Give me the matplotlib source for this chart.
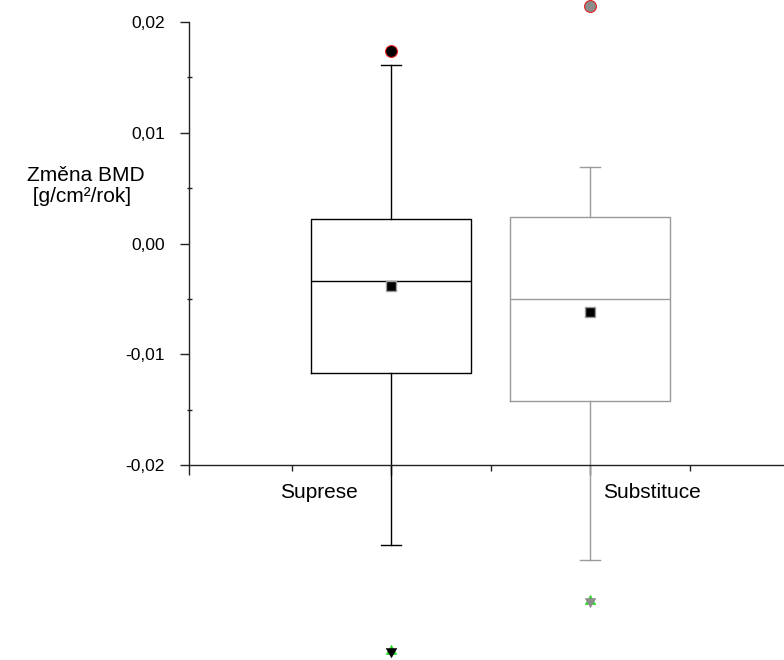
import matplotlib
matplotlib.use("Agg")
import matplotlib.pyplot as plt
from matplotlib.ticker import MultipleLocator, FuncFormatter

plt.rcParams['font.family'] = ['Liberation Sans', 'DejaVu Sans']

# Box statistics per group (g/cm2/year)
categories = ["Suprese", "Substituce"]
positions = [1, 2]
label_x = [0.64, 2.31]
q3 = [0.00217, 0.00235]
median = [-0.00343, -0.00497]
q1 = [-0.01165, -0.01418]
whisker_hi = [0.01608, 0.00687]
whisker_lo = [-0.02719, -0.02855]
means = [-0.0038, -0.00614]
outlier_hi = [0.01734, 0.02141]
outlier_lo = [-0.03677, -0.03225]
colors = ["black", "#9a9a9a"]
outlier_fill = ["black", "#8c8c8c"]

# equilateral triangles centred on their centroid, so the pair forms a star
TRI_UP = [(0, 1), (-0.866, -0.5), (0.866, -0.5), (0, 1)]
TRI_DOWN = [(0, -1), (-0.866, 0.5), (0.866, 0.5), (0, -1)]

fig = plt.figure(figsize=(7.84, 6.6), dpi=100)
ax = fig.add_axes([189 / 784, 1 - 465 / 660, 1 - 189 / 784, 443 / 660])

for i, name in enumerate(categories):
    c = colors[i]
    stats = dict(label=name, med=median[i], q1=q1[i], q3=q3[i],
                 whislo=whisker_lo[i], whishi=whisker_hi[i], fliers=[])
    art = ax.bxp([stats], positions=[positions[i]], widths=0.8,
                 showfliers=False, manage_ticks=False,
                 boxprops=dict(color=c, linewidth=1.0),
                 medianprops=dict(color=c, linewidth=1.0),
                 whiskerprops=dict(color=c, linewidth=1.0),
                 capprops=dict(color=c, linewidth=1.0),
                 capwidths=0.1)
    for key in art:
        for ln in art[key]:
            ln.set_clip_on(False)
    # mean
    ax.plot(positions[i], means[i], marker='s', ms=7, mfc='black',
            mec='#9a9a9a', mew=1.0, ls='none', zorder=5, clip_on=False)
    # upper outlier
    ax.plot(positions[i], outlier_hi[i], marker='o', ms=8.5, mfc=outlier_fill[i],
            mec='#e02020', mew=0.8, ls='none', zorder=5, clip_on=False)
    # lower outlier: down triangle over an up triangle
    ax.plot(positions[i], outlier_lo[i], marker=TRI_UP, ms=9, mfc='#22dd22',
            mec='#22dd22', mew=0.3, ls='none', zorder=5, clip_on=False)
    ax.plot(positions[i], outlier_lo[i], marker=TRI_DOWN, ms=9, mfc=outlier_fill[i],
            mec=outlier_fill[i], mew=0.3, ls='none', zorder=6, clip_on=False)

x_lo = -3 / 199
ax.set_xlim(x_lo, 592 / 199)
ax.set_ylim(-0.02, 0.02)

for s in ['top', 'right']:
    ax.spines[s].set_visible(False)
ax.spines['left'].set_bounds(-0.02, 0.02)
for s in ['left', 'bottom']:
    ax.spines[s].set_linewidth(1.0)
    ax.spines[s].set_color('#222222')

ax.yaxis.set_major_locator(MultipleLocator(0.01))
ax.yaxis.set_minor_locator(MultipleLocator(0.005))
ax.yaxis.set_major_formatter(FuncFormatter(
    lambda v, p: f"{v:.2f}".replace('.', ',').replace('-0,00', '0,00')))
ax.tick_params(axis='y', which='major', direction='out', length=6.5, width=1.0,
               labelsize=12.5, pad=11, color='#222222')
ax.tick_params(axis='y', which='minor', direction='inout', length=3.6, width=1.0,
               color='#222222')

ax.set_xticks([x_lo, 1, 2])
ax.set_xticks([0.5, 1.5, 2.5], minor=True)
ax.set_xticklabels([])
ax.tick_params(axis='x', which='major', direction='out', length=7, width=1.0,
               color='#222222')
ax.tick_params(axis='x', which='minor', direction='out', length=4.3, width=1.0,
               color='#222222')

for i, name in enumerate(categories):
    ax.text(label_x[i], -0.02 - 28 / 11075, name, ha='center', va='center',
            fontsize=15, clip_on=False)

fig.text(27 / 784, 1 - 186 / 660, "Změna BMD\n [g/cm²/rok]", ha='left',
         va='center', fontsize=15, linespacing=1.1)

fig.savefig("out.png", dpi=100)
